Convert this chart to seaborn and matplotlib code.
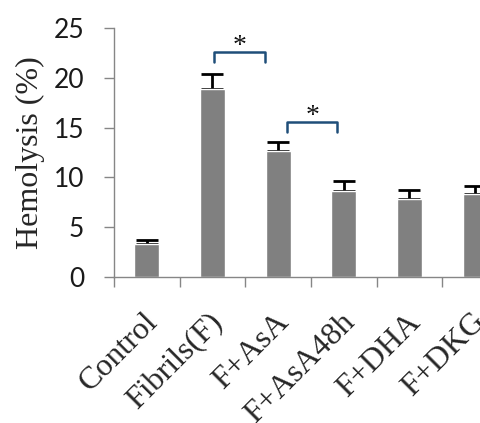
import matplotlib
matplotlib.use("Agg")
import matplotlib.pyplot as plt
import matplotlib.transforms as mtransforms
import seaborn as sns
import pandas as pd
import numpy as np

categories = ["Control", "Fibrils(F)", "F+AsA", "F+AsA48h", "F+DHA", "F+DKG"]
values = [3.3, 18.9, 12.6, 8.6, 7.8, 8.3]
errors = [0.45, 1.5, 0.95, 1.05, 0.95, 0.85]
yticks = [0, 5, 10, 15, 20, 25]

sns.set_theme(style="white")
fig = plt.figure(figsize=(4.8, 4.23), dpi=100)
ax = fig.add_axes([0.2375, 0.3452, 394/480, 0.9338 - 0.3452])

df = pd.DataFrame({"cat": categories, "val": values})
sns.barplot(data=df, x="cat", y="val", color="#808080", saturation=1,
            width=0.38, ax=ax, zorder=2)
xpos = np.arange(len(categories))
ax.errorbar(xpos, values, yerr=[np.zeros(len(errors)), errors], fmt="none",
            ecolor="black", elinewidth=2, capsize=8, capthick=2, zorder=1)

ax.set_xlim(-0.5, 5.5)
ax.set_ylim(0, 25)
ax.set_yticks(yticks)
ax.set_yticklabels([str(t) for t in yticks], fontfamily="Lato", fontsize=19, color="#1a1a1a")
ax.set_xticks(np.arange(-0.5, 6, 1), minor=False)
ax.set_xticks(xpos, minor=True)
ax.set_xticklabels([""] * 7)
ax.set_xticklabels(categories, minor=True, rotation=45, ha="right",
                   rotation_mode="anchor", fontfamily="Liberation Serif", fontsize=23)
ax.tick_params(axis="x", which="minor", length=0, pad=22)
ax.tick_params(axis="x", which="major", direction="out", length=7.5, width=1, color="#868686", bottom=True)
ax.tick_params(axis="y", direction="out", length=7.5, width=1, color="#868686", left=True, pad=14)
offset = mtransforms.ScaledTranslation(-0.04, 0, fig.dpi_scale_trans)
for lab in ax.get_xticklabels(minor=True):
    lab.set_transform(lab.get_transform() + offset)
ax.set_xlabel("")
ax.set_ylabel("Hemolysis (%)", fontfamily="Liberation Serif", fontsize=23, labelpad=6)

for s in ["top", "right"]:
    ax.spines[s].set_visible(False)
for s in ["left", "bottom"]:
    ax.spines[s].set_color("#868686")
    ax.spines[s].set_linewidth(1)

bc = "#1f4e79"
def bracket(x0, x1, y, h, star_y):
    ax.plot([x0, x0, x1, x1], [y - h, y, y, y - h], color=bc, lw=1.8, clip_on=False, zorder=3)
    ax.text((x0 + x1) / 2, star_y, "*", ha="center", va="center", fontsize=20,
            fontfamily="Liberation Serif", color="#111111")

bracket(1.02, 1.80, 22.6, 1.0, 23.1)
bracket(2.14, 2.90, 15.6, 1.0, 16.1)

fig.savefig("out.png", dpi=100)
